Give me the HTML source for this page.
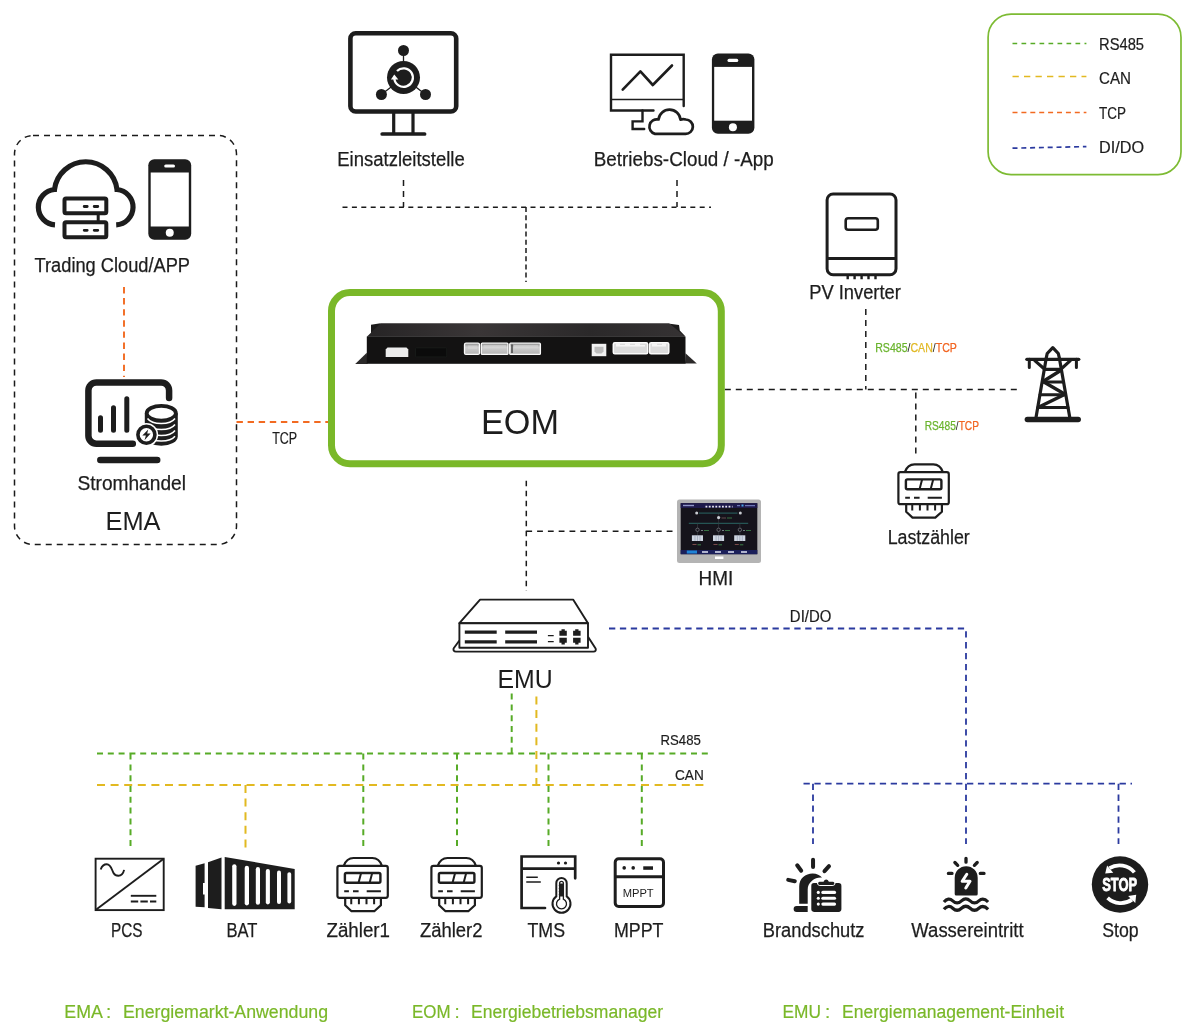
<!DOCTYPE html>
<html lang="de">
<head>
<meta charset="utf-8">
<title>EOM Systemarchitektur</title>
<style>
html,body{margin:0;padding:0;background:#fff;}
body{width:1200px;height:1035px;overflow:hidden;font-family:"Liberation Sans",sans-serif;}
#wrap{width:1200px;height:1035px;will-change:transform;transform:translateZ(0);}
svg{display:block;}
text{font-family:"Liberation Sans",sans-serif;fill:#1d1d1d;}
.lbl{font-size:20px;text-anchor:middle;stroke:#1d1d1d;stroke-width:0.250px;}
.sm{font-size:15.800px;text-anchor:middle;stroke:#1d1d1d;stroke-width:0.200px;}
.ft{font-size:18.800px;fill:#7ab829;stroke:#7ab829;stroke-width:0.200px;}
.dk{stroke:#1a1a1a;stroke-width:1.500;stroke-dasharray:6 5;fill:none;}
.dkt{stroke:#1a1a1a;stroke-width:1.500;stroke-dasharray:5 4.400;fill:none;}
.gr{stroke:#57ab27;stroke-width:2;stroke-dasharray:6 4.800;fill:none;}
.ye{stroke:#e2b921;stroke-width:2;stroke-dasharray:8 5.600;fill:none;}
.or{stroke:#f26a21;stroke-width:1.900;stroke-dasharray:6.400 4.700;fill:none;}
.bl{stroke:#2b3a9f;stroke-width:1.800;stroke-dasharray:6.300 4.600;fill:none;}
</style>
</head>
<body>
<div id="wrap">
<svg width="1200" height="1035" viewBox="0 0 1200 1035">
<rect width="1200" height="1035" fill="#fff"/>
<!-- ===== LEGEND ===== -->
<g id="legend">
<rect x="988.100" y="14.200" width="192.900" height="160.500" rx="23" ry="23" fill="#fff" stroke="#7dbb33" stroke-width="1.700"/>
<path d="M1012.500 43.500H1086.400" fill="none" stroke="#57ab27" stroke-width="1.600" stroke-dasharray="4.700 4.300"/>
<path d="M1012.500 76.500H1086.400" fill="none" stroke="#e2b921" stroke-width="1.600" stroke-dasharray="6.300 5.200"/>
<path d="M1012.500 112.500H1086.400" fill="none" stroke="#f26a21" stroke-width="1.600" stroke-dasharray="5 3.900"/>
<path d="M1012.500 148.200L1086.400 146.600" fill="none" stroke="#2b3a9f" stroke-width="1.700" stroke-dasharray="5 3.800"/>
<text x="1099" y="50.200" font-size="16.200" stroke="#1d1d1d" stroke-width="0.2" textLength="45" lengthAdjust="spacingAndGlyphs">RS485</text>
<text x="1099" y="84.400" font-size="16.200" stroke="#1d1d1d" stroke-width="0.2" textLength="32" lengthAdjust="spacingAndGlyphs">CAN</text>
<text x="1099" y="118.500" font-size="16.200" stroke="#1d1d1d" stroke-width="0.2" textLength="27" lengthAdjust="spacingAndGlyphs">TCP</text>
<text x="1099" y="153" font-size="16.200" stroke="#1d1d1d" stroke-width="0.2" textLength="45" lengthAdjust="spacingAndGlyphs">DI/DO</text>
</g>

<!-- ===== CONNECTION LINES ===== -->
<g id="lines">
<path class="dk" d="M403.500 180V207M677 180V207"/><path class="dkt" d="M342.500 207.250H711"/><path class="dk" d="M526 207V282" style="stroke-dasharray:5 3.2"/>
<rect x="14.500" y="135.500" width="222" height="409" rx="18.500" ry="18.500" class="dk"/>
<path class="or" d="M124 287V377"/>
<path class="or" d="M236.500 422H328"/>
<path class="dk" d="M526.300 480.800V591" style="stroke-dasharray:5.500 4.500"/><path class="dk" d="M526.300 531.300H672.500" style="stroke-dasharray:5.800 5"/>
<path class="dk" d="M724.800 389.500H1019M865.800 309V389.500M915.800 392.500V457.500"/>
<path class="bl" d="M609 628.500H966V844M803.500 783.700H1132M813 783.700V844M1118.500 783.700V844"/>
<path class="gr" d="M97 753.600H710M511.700 693.600V753M130.500 753.600V849M363.300 753.600V849M457 753.600V849M548.500 753.600V849M641.800 753.600V849"/>
<path class="ye" d="M97 785H706M536.400 696.500V785M245.500 785V849"/>
</g>

<!-- ===== EOM BOX ===== -->
<g id="eom">
<rect x="331.500" y="292.500" width="389.800" height="171.300" rx="18.500" ry="18.500" fill="#fff" stroke="#7ab829" stroke-width="7"/>
<text x="520" y="433.600" font-size="35.400" text-anchor="middle" textLength="78" lengthAdjust="spacingAndGlyphs">EOM</text>
</g>

<!-- ===== LABELS ===== -->
<g id="labels">
<text class="lbl" x="401" y="165.800" textLength="127.500" lengthAdjust="spacingAndGlyphs">Einsatzleitstelle</text>
<text class="lbl" x="683.8" y="166" textLength="180" lengthAdjust="spacingAndGlyphs">Betriebs-Cloud / -App</text>
<text class="lbl" x="112.300" y="271.700" textLength="155.500" lengthAdjust="spacingAndGlyphs">Trading Cloud/APP</text>
<text class="lbl" x="131.700" y="489.500" textLength="108.500" lengthAdjust="spacingAndGlyphs">Stromhandel</text>
<text x="133" y="530.400" font-size="26.300" text-anchor="middle" textLength="55" lengthAdjust="spacingAndGlyphs">EMA</text>
<text class="sm" x="284.700" y="444" textLength="25" lengthAdjust="spacingAndGlyphs">TCP</text>
<text class="lbl" x="855" y="299.400" textLength="91.500" lengthAdjust="spacingAndGlyphs">PV Inverter</text>
<text class="lbl" x="928.7" y="544.3" textLength="82.1" lengthAdjust="spacingAndGlyphs">Lastzähler</text>
<text class="lbl" x="715.900" y="584.900" textLength="34.700" lengthAdjust="spacingAndGlyphs">HMI</text>
<text x="525" y="688.200" font-size="25.400" text-anchor="middle" textLength="55.200" lengthAdjust="spacingAndGlyphs">EMU</text>
<text class="sm" x="810.600" y="622.200" textLength="41.500" lengthAdjust="spacingAndGlyphs">DI/DO</text>
<text class="sm" x="680.700" y="745.400" style="font-size:14px" textLength="40.200" lengthAdjust="spacingAndGlyphs">RS485</text>
<text class="sm" x="689.400" y="780.300" style="font-size:14px" textLength="28.700" lengthAdjust="spacingAndGlyphs">CAN</text>
<text class="lbl" x="126.75" y="937.4" textLength="31.5" lengthAdjust="spacingAndGlyphs">PCS</text>
<text class="lbl" x="242" y="937.4" textLength="31" lengthAdjust="spacingAndGlyphs">BAT</text>
<text class="lbl" x="358.25" y="937.4" textLength="63.5" lengthAdjust="spacingAndGlyphs">Zähler1</text>
<text class="lbl" x="451.25" y="937.4" textLength="62.5" lengthAdjust="spacingAndGlyphs">Zähler2</text>
<text class="lbl" x="546.25" y="937.4" textLength="37.5" lengthAdjust="spacingAndGlyphs">TMS</text>
<text class="lbl" x="638.75" y="937.4" textLength="49.5" lengthAdjust="spacingAndGlyphs">MPPT</text>
<text class="lbl" x="813.65" y="937.4" textLength="101.7" lengthAdjust="spacingAndGlyphs">Brandschutz</text>
<text class="lbl" x="967.5" y="937.4" textLength="112.3" lengthAdjust="spacingAndGlyphs">Wassereintritt</text>
<text class="lbl" x="1120.4" y="937.4" textLength="36.4" lengthAdjust="spacingAndGlyphs">Stop</text>
<text x="875.200" y="351.600" font-size="12.200" textLength="81.700" lengthAdjust="spacingAndGlyphs"><tspan style="fill:#6ab42d;stroke:#6ab42d;stroke-width:0.25px">RS485</tspan><tspan style="fill:#222">/</tspan><tspan style="fill:#e1b926;stroke:#e1b926;stroke-width:0.25px">CAN</tspan><tspan style="fill:#222">/</tspan><tspan style="fill:#f26522;stroke:#f26522;stroke-width:0.25px">TCP</tspan></text>
<text x="924.700" y="430.300" font-size="12.200" textLength="54.300" lengthAdjust="spacingAndGlyphs"><tspan style="fill:#6ab42d;stroke:#6ab42d;stroke-width:0.25px">RS485</tspan><tspan style="fill:#222">/</tspan><tspan style="fill:#f26522;stroke:#f26522;stroke-width:0.25px">TCP</tspan></text>
<text class="ft" x="64.300" y="1018" textLength="38.500" lengthAdjust="spacingAndGlyphs">EMA</text><text class="ft" x="106" y="1018">:</text>
<text class="ft" x="123" y="1018" textLength="205" lengthAdjust="spacingAndGlyphs">Energiemarkt-Anwendung</text>
<text class="ft" x="412" y="1018" textLength="38.500" lengthAdjust="spacingAndGlyphs">EOM</text><text class="ft" x="454.500" y="1018">:</text>
<text class="ft" x="471" y="1018" textLength="192" lengthAdjust="spacingAndGlyphs">Energiebetriebsmanager</text>
<text class="ft" x="782.500" y="1018" textLength="38.500" lengthAdjust="spacingAndGlyphs">EMU</text><text class="ft" x="825" y="1018">:</text>
<text class="ft" x="842" y="1018" textLength="222" lengthAdjust="spacingAndGlyphs">Energiemanagement-Einheit</text>
</g>
<g id="icons">
<!-- Einsatzleitstelle monitor -->
<g id="ic-leit" fill="none" stroke="#1d1d1d">
<rect x="350.400" y="33.300" width="105.800" height="78.200" rx="5.300" stroke-width="4.600"/>
<path d="M393.700 113V133M413 113V133" stroke-width="3.200"/>
<path d="M382.200 134H424.600" stroke-width="3.700" stroke-linecap="round"/>
<path d="M403.500 51V77.500L381.400 94.500M403.500 77.500L425.500 94.500" stroke-width="1.300"/>
<circle cx="403.500" cy="77.500" r="16.500" fill="#1d1d1d" stroke="none"/>
<circle cx="403.500" cy="50.500" r="5.500" fill="#1d1d1d" stroke="none"/>
<circle cx="381.400" cy="94.500" r="5.500" fill="#1d1d1d" stroke="none"/>
<circle cx="425.500" cy="94.500" r="5.500" fill="#1d1d1d" stroke="none"/>
<path d="M394.300 78.500A9.300 9.300 0 1 0 397 71" stroke="#fff" stroke-width="2.300"/>
<path d="M390.900 79.600L394.300 74.400L398.300 79.600Z" fill="#fff" stroke="none"/>
</g>
<!-- Betriebs-Cloud monitor -->
<g id="ic-betr" fill="none" stroke="#1d1d1d" stroke-linecap="round" stroke-linejoin="miter">
<path d="M653.500 110.500H611V54.800H683.700V106" stroke-width="2.400"/>
<path d="M611 99.500H683.700" stroke-width="1.300" stroke-linecap="butt"/>
<path d="M642.500 110.500V121.400H632.600V129H644.200" stroke-width="2.400"/>
<path d="M622.700 89.600L640.400 71.400L652.800 85L672 65.500" stroke-width="2.600" stroke-linejoin="round"/>
<path d="M655 133.900H685.500A7.200 7.200 0 0 0 685.800 119.500Q683 118.900 680.500 119.600A11.060 11.060 0 0 0 658.500 119.500A7.410 7.410 0 0 0 655 133.900Z" fill="#fff" stroke-width="2.700" stroke-linejoin="round"/>
</g>
<!-- phone (Betriebs) -->
<g id="ic-ph1">
<rect x="711.900" y="53.600" width="42.500" height="80.200" rx="6" fill="#1d1d1d"/>
<rect x="714.200" y="66.900" width="37.800" height="53.800" fill="#fff"/>
<rect x="727.500" y="58.800" width="10.800" height="3.200" rx="1.600" fill="#fff"/>
<circle cx="732.900" cy="127.200" r="4" fill="#fff"/>
</g>
<!-- Trading cloud -->
<g id="ic-tcloud" fill="none" stroke="#1d1d1d">
<path d="M55 224.800A17.700 17.700 0 0 1 54.500 189.500A31.470 31.470 0 0 1 117 189.500A17.700 17.700 0 0 1 116.200 224.800" stroke-width="5.200"/>
<rect x="64.500" y="198.500" width="41.800" height="14.800" rx="1.500" fill="#fff" stroke-width="4"/>
<rect x="64.500" y="222.200" width="41.800" height="15" rx="1.500" fill="#fff" stroke-width="4"/>
<path d="M98.200 214V221" stroke-width="3"/>
<path d="M84.200 206.500H87.200M94.200 206.500H97.800M84.200 230.300H87.200M94.200 230.300H97.800" stroke-width="2.800" stroke-linecap="round"/>
</g>
<!-- phone (Trading) -->
<g id="ic-ph2">
<rect x="148.300" y="159.300" width="42.900" height="80.400" rx="6" fill="#1d1d1d"/>
<rect x="150.700" y="172.500" width="38.100" height="54" fill="#fff"/>
<rect x="164.200" y="164.400" width="10.800" height="3.100" rx="1.550" fill="#fff"/>
<circle cx="169.750" cy="232.800" r="4" fill="#fff"/>
</g>
<!-- Stromhandel -->
<g id="ic-strom" fill="none" stroke="#1d1d1d" stroke-linecap="round">
<path d="M169.100 398V390.400a8 8 0 0 0 -8 -8H96.400a8 8 0 0 0 -8 8V435.700a8 8 0 0 0 8 8H132.800" stroke-width="6.500"/>
<path d="M100.300 460H157.200" stroke-width="6.500"/>
<path d="M100.500 417.800V430.300M113.500 407.700V430.300M126.800 398.700V430.300" stroke-width="5"/>
<!-- coins -->
<path d="M144.800 413.300V436.500A16.500 9.300 0 0 0 177.800 436.500V413.300Z" fill="#1d1d1d" stroke="none"/>
<ellipse cx="161.300" cy="413.300" rx="14.600" ry="7.400" fill="#fff" stroke-width="3.800"/>
<path d="M147.500 418.500A14.800 8 0 0 0 175 418.500M147.500 424.500A14.800 8 0 0 0 175 424.500M147.500 430.500A14.800 8 0 0 0 175 430.500M147.500 436.300A14.800 7.500 0 0 0 175 436.300" stroke="#fff" stroke-width="1.500" stroke-linecap="butt"/>
<circle cx="146.400" cy="434.800" r="11.800" fill="#fff" stroke="none"/>
<circle cx="146.400" cy="434.800" r="8.500" fill="#fff" stroke-width="3.600"/>
<path d="M148.200 429.400L142.300 435.500H145.900L144.500 440.200L150.600 433.600H147.200Z" fill="#1d1d1d" stroke="none"/>
</g>
<!-- EOM device -->
<defs>
<linearGradient id="gtop" x1="0" y1="0" x2="1" y2="0">
<stop offset="0" stop-color="#262425"/><stop offset="0.35" stop-color="#3a3637"/><stop offset="0.7" stop-color="#2b292a"/><stop offset="1" stop-color="#353233"/>
</linearGradient>
<linearGradient id="gcon" x1="0" y1="0" x2="0" y2="1">
<stop offset="0" stop-color="#8a8a8a"/><stop offset="0.35" stop-color="#cfcfcf"/><stop offset="1" stop-color="#b5b5b5"/>
</linearGradient>
</defs>
<g id="ic-eomdev">
<path d="M371 324.800L380.500 323.200V330L371 336Z" fill="#1b1a1a"/>
<path d="M670 323.800L679 325L679.800 330.500L685 336H672Z" fill="#1b1a1a"/>
<path d="M380.750 323.200H669.250L685.300 336.700H366.800Z" fill="url(#gtop)"/>
<path d="M366.800 352.700L355.200 364H367.500Z" fill="#2b2929"/>
<path d="M685.500 353.300L696.800 363.400H685Z" fill="#2b2929"/>
<rect x="366.800" y="336.500" width="318.700" height="27.300" fill="#131212"/>
<path d="M387.500 347.500H406.500L408.300 349.500V356.900H385.700V349.500Z" fill="#ececec"/>
<rect x="415.500" y="347.900" width="31.200" height="9" rx="1" fill="#0b0b0b" stroke="#1c211e" stroke-width="0.600"/>
<g fill="url(#gcon)" stroke="#fafafa" stroke-width="1.300">
<rect x="464.500" y="343.200" width="15" height="11.200" rx="1.500"/>
<rect x="481.300" y="343.200" width="26.700" height="11.200" rx="1"/>
<rect x="509.700" y="343.200" width="30.700" height="11.200" rx="1"/>
</g>
<path d="M468 345.500H477V349H468ZM483.500 345H506V348.500H483.500ZM514 345H538V348.500H514Z" fill="#d9d9d9" opacity="0.550"/>
<path d="M512 344.500V353" stroke="#333" stroke-width="1.300"/>
<rect x="591.700" y="343.800" width="14.600" height="12.400" fill="#f1f1f1"/>
<path d="M594.500 346.800H603.500V351.500L601.500 353.500H596.500L594.500 351.500Z" fill="#bdbdbd"/>
<g fill="#dcdcdc" stroke="#fbfbfb" stroke-width="1.500">
<rect x="613.300" y="342.800" width="34.400" height="11" rx="1.500"/>
<rect x="649.600" y="342.800" width="19.200" height="11" rx="1.500"/>
</g>
<path d="M616 343.500H620V345H625V343.500H630V345H635V343.500H640V345H645V346.500H616ZM652 343.500H657V345H662V343.500H666V346.500H652Z" fill="#f5f5f5"/>
</g>
<!-- HMI -->
<g id="ic-hmi">
<rect x="677" y="499.600" width="84" height="63.400" rx="2.500" fill="#b4b4b4"/>
<rect x="680.700" y="503.200" width="76.600" height="51" fill="#15131b"/>
<rect x="680.700" y="503.200" width="76.600" height="4.800" fill="#1e1a4c"/>
<rect x="680.700" y="550" width="76.600" height="4.200" fill="#1b1f5a"/>
<rect x="686.800" y="550.500" width="10.200" height="3" fill="#1f83d6"/>
<path d="M702 552H708M715 552H721M728 552H734M741 552H747" stroke="#dfe3f5" stroke-width="1.300"/>
<rect x="715" y="556.500" width="8.400" height="2.500" fill="#fff"/>
<path d="M683 505.500H694" stroke="#8f95c8" stroke-width="1.400"/>
<path d="M705.500 506.600H732.500" stroke="#e6e6ee" stroke-width="1.600" stroke-dasharray="1.800 1.500"/>
<path d="M737 505.600H740M745 505.600H755" stroke="#6d76b5" stroke-width="1.200"/>
<rect x="741.500" y="504.500" width="2" height="2" fill="#4aa6e8"/>
<path d="M699 513.100H737.500M688.800 523.300H748.200" stroke="#2c6f6c" stroke-width="0.900"/>
<path d="M718.600 513V535M697.500 523.300V535M739.900 523.300V535" stroke="#3a3f45" stroke-width="0.600"/>
<g fill="#15131b" stroke="#8b8f96" stroke-width="0.600">
<circle cx="697.500" cy="529.800" r="1.700"/><circle cx="718.600" cy="529.800" r="1.700"/><circle cx="739.900" cy="529.800" r="1.700"/>
</g>
<g fill="#c9ccd2"><circle cx="696.700" cy="513.100" r="1.500"/><circle cx="740.300" cy="513.100" r="1.500"/><circle cx="718.600" cy="517.600" r="1.600"/></g>
<path d="M721.500 518H726" stroke="#7a5a5a" stroke-width="0.800"/><path d="M727 518H732" stroke="#3f8a4c" stroke-width="0.800"/>
<path d="M701 530.500H703M722 530.500H724M743 530.500H745" stroke="#9aa" stroke-width="0.700"/>
<path d="M704 530.500H709M725 530.500H730M746 530.500H751" stroke="#3f8a4c" stroke-width="0.800"/>
<g fill="#cfd6e2">
<rect x="691.900" y="535.300" width="11.100" height="5.700"/><rect x="713" y="535.300" width="11.100" height="5.700"/><rect x="734.200" y="535.300" width="11.100" height="5.700"/>
</g>
<path d="M695 535.300V541M697.500 535.300V541M700 535.300V541M716.100 535.300V541M718.600 535.300V541M721.100 535.300V541M737.300 535.300V541M739.800 535.300V541M742.300 535.300V541" stroke="#8f99ad" stroke-width="0.600"/>
<path d="M692.500 544.500H696.500M713.500 544.500H717.500M734.800 544.500H738.800" stroke="#7a4a4a" stroke-width="1"/>
<path d="M697.500 544.800H701M718.500 544.800H722M739.800 544.800H743.300" stroke="#3f8a4c" stroke-width="0.900"/>
</g>
<!-- EMU device -->
<g id="ic-emu" fill="none" stroke="#1d1d1d" stroke-width="1.900" stroke-linejoin="round">
<path d="M459.400 640.500L453.700 648.300Q452.800 651.600 456 651.600H593.500Q596.500 651.600 595.600 648.500L588 636.700" fill="#fff"/>
<path d="M459.400 623.200L480.100 599.600H573.100L588 623.200Z" fill="#fff"/>
<rect x="459.400" y="623.200" width="128.600" height="24.600" fill="#fff"/>
<path d="M464.800 632.200H496.700M464.800 641.800H496.700M505.200 632.200H537M505.200 641.800H537" stroke-width="3.300"/>
<path d="M547.900 635.700H553.700M547.900 641.700H553.700" stroke-width="1.200"/>
<g fill="#1d1d1d" stroke="none">
<path d="M561.500 629.200H564.800V630.700H566.800V635.800H559.400V630.700H561.500Z"/>
<path d="M559.400 637.800H566.800V642.800H564.800V644.500H561.500V642.800H559.400Z"/>
<path d="M575.200 629.200H578.500V630.700H580.600V635.800H573.100V630.700H575.200Z"/>
<path d="M573.100 637.800H580.600V642.800H578.500V644.500H575.200V642.800H573.100Z"/>
</g>
</g>
<!-- PV inverter -->
<g id="ic-pv" fill="none" stroke="#1d1d1d">
<rect x="827.100" y="194" width="68.900" height="80.700" rx="6" stroke-width="3"/>
<path d="M827.100 258.600H896" stroke-width="3"/>
<rect x="845.700" y="218.300" width="32.100" height="11.500" rx="2.500" stroke-width="2.600"/>
<path d="M847.700 275.500V279.200M854.600 275.500V279.200M861.600 275.500V279.200M868.500 275.500V279.200M875.500 275.500V279.200" stroke-width="2.400"/>
</g>
<!-- tower -->
<g id="ic-tower" fill="none" stroke="#1d1d1d" stroke-linecap="round" stroke-linejoin="round">
<path d="M1027.400 419.600H1078.200" stroke-width="5.500"/>
<path d="M1026.800 359.300H1078.800" stroke-width="3.200"/>
<path d="M1029.300 359.300V367.500M1076.400 359.300V367.500" stroke-width="3"/>
<path d="M1036.100 417L1046.200 358.200L1047.200 353.500L1052.800 347.600L1058.300 353.500L1059.400 358.200L1069.700 417" stroke-width="3.200"/>
<path d="M1034.800 360.600L1044.700 369.300H1060.800L1070.300 360.600" stroke-width="3.200"/>
<path d="M1060.200 370.700L1043 381.500L1065 394.200L1039 407" stroke-width="3.400"/>
<path d="M1043 382.100H1062.900M1040 394.800H1065M1037.800 407.400H1068" stroke-width="3"/>
</g>
<g id="ic-last" transform="translate(0 0)" fill="none" stroke="#1d1d1d" stroke-width="2.200" stroke-linejoin="round">
<path d="M904.800 472.200Q907.500 464.400 914.500 464.400H933.300Q940.300 464.400 942.900 472.200"/>
<path d="M906.200 504.200V511.700L912.500 517.600H935.300L941.900 511.700V504.200"/>
<path d="M912.250 505V510.600M919.900 505V510.600M927.500 505V510.600M935.100 505V510.600" stroke-width="2"/>
<rect x="898.400" y="472.200" width="50.400" height="32" rx="2" fill="#fff"/>
<rect x="905.900" y="479.400" width="35.500" height="9.800" rx="1.500" stroke-width="2.400"/>
<path d="M922.100 479.400L919.600 489M933.200 479.400L930.700 489" stroke-width="2"/>
<path d="M905.200 497.700H909.900M914 497.700H919.600M927.700 497.700H941.900" stroke-width="2"/>
</g>
<g id="ic-z1" transform="translate(-561 393.6)" fill="none" stroke="#1d1d1d" stroke-width="2.200" stroke-linejoin="round">
<path d="M904.800 472.200Q907.500 464.400 914.500 464.400H933.300Q940.300 464.400 942.900 472.200"/>
<path d="M906.200 504.200V511.700L912.500 517.600H935.300L941.900 511.700V504.200"/>
<path d="M912.250 505V510.600M919.900 505V510.600M927.500 505V510.600M935.100 505V510.600" stroke-width="2"/>
<rect x="898.400" y="472.200" width="50.400" height="32" rx="2" fill="#fff"/>
<rect x="905.900" y="479.400" width="35.500" height="9.800" rx="1.500" stroke-width="2.400"/>
<path d="M922.100 479.400L919.600 489M933.200 479.400L930.700 489" stroke-width="2"/>
<path d="M905.200 497.700H909.900M914 497.700H919.600M927.700 497.700H941.900" stroke-width="2"/>
</g>
<g id="ic-z2" transform="translate(-467 393.6)" fill="none" stroke="#1d1d1d" stroke-width="2.200" stroke-linejoin="round">
<path d="M904.800 472.200Q907.500 464.400 914.500 464.400H933.300Q940.300 464.400 942.900 472.200"/>
<path d="M906.200 504.200V511.700L912.500 517.600H935.300L941.900 511.700V504.200"/>
<path d="M912.250 505V510.600M919.900 505V510.600M927.500 505V510.600M935.100 505V510.600" stroke-width="2"/>
<rect x="898.400" y="472.200" width="50.400" height="32" rx="2" fill="#fff"/>
<rect x="905.900" y="479.400" width="35.500" height="9.800" rx="1.500" stroke-width="2.400"/>
<path d="M922.100 479.400L919.600 489M933.200 479.400L930.700 489" stroke-width="2"/>
<path d="M905.200 497.700H909.900M914 497.700H919.600M927.700 497.700H941.900" stroke-width="2"/>
</g>
<!-- PCS -->
<g id="ic-pcs" fill="none" stroke="#1d1d1d" stroke-width="1.900">
<rect x="95.600" y="858.700" width="68.100" height="51.400" fill="#fff"/>
<path d="M95.600 910.100L163.700 858.700"/>
<path d="M100.700 869.500C102 865.500 104.300 864.200 106.800 864.200C111 864.200 111.800 870 113.500 873C114.800 875.200 116.500 875.800 118.300 875.800C121.500 875.800 123.300 873.500 124.100 869.900"/>
<path d="M130.800 895.800H156.300"/>
<path d="M130.800 901.500H156.300" stroke-dasharray="7.400 2.200"/>
</g>
<!-- BAT -->
<g id="ic-bat" fill="#1d1d1d">
<path d="M195.600 865.700L204.600 863.200V883H203V894.500H204.600V907.300L195.600 906.700Z"/>
<path d="M208 862.250L221.500 857.500V909.200L208 907.900Z"/>
<path d="M224.700 856.900L294.700 869V909.200H224.700Z"/>
<g fill="#fff">
<rect x="232.200" y="864.200" width="4.300" height="41.800" rx="2.150"/>
<rect x="244.700" y="865.800" width="4.300" height="39.600" rx="2.150"/>
<rect x="255.800" y="867.100" width="4.200" height="37.700" rx="2.100"/>
<rect x="265.800" y="869" width="4.100" height="35.400" rx="2.050"/>
<rect x="277" y="870.400" width="4" height="33.600" rx="2"/>
<rect x="287.400" y="872.200" width="3.800" height="31.300" rx="1.900"/>
</g>
</g>
<!-- TMS -->
<g id="ic-tms" fill="none" stroke="#1d1d1d" stroke-linecap="round" stroke-linejoin="miter">
<path d="M545 908H521.600V856.500H575.200V878.300" stroke-width="2.700"/>
<path d="M521.600 868.700H575.200" stroke-width="2.700" stroke-linecap="butt"/>
<circle cx="558.500" cy="863" r="1.600" fill="#1d1d1d" stroke="none"/>
<circle cx="565.500" cy="863" r="1.600" fill="#1d1d1d" stroke="none"/>
<path d="M526.250 877.250H537.800M526.250 882H540.800" stroke-width="1.600" stroke-linecap="butt"/>
<path d="M556.300 896.400V883.200A5.200 5.200 0 0 1 566.700 883.200V896.400A9 9 0 1 1 556.300 896.400Z" fill="#fff" stroke="#fff" stroke-width="5"/>
<path d="M556.300 896.400V883.200A5.200 5.200 0 0 1 566.700 883.200V896.400A9 9 0 1 1 556.300 896.400Z" fill="#fff" stroke-width="2"/>
<path d="M559.600 899.200V883.300A1.900 1.900 0 0 1 563.400 883.300V899.200A5 5 0 1 1 559.600 899.200Z" fill="#fff" stroke-width="1.300"/>
<path d="M561.500 883.500V896.500" stroke-width="3" stroke-linecap="butt"/>
<path d="M558.800 885.500H561M558.800 888.500H561M558.800 891.500H561M558.800 894.500H561" stroke-width="0.900" stroke-linecap="butt"/>
</g>
<!-- MPPT -->
<g id="ic-mppt" fill="none" stroke="#1d1d1d">
<rect x="615.200" y="858.800" width="48.300" height="47.700" rx="3.500" fill="#fff" stroke-width="3"/>
<path d="M615.200 876.800H663.500" stroke-width="3"/>
<circle cx="624.200" cy="867.900" r="1.800" fill="#1d1d1d" stroke="none"/>
<circle cx="633.200" cy="867.900" r="1.800" fill="#1d1d1d" stroke="none"/>
<rect x="643.250" y="866.300" width="9.750" height="3.500" fill="#1d1d1d" stroke="none"/>
<text x="638.200" y="896.800" font-size="11.200" text-anchor="middle" textLength="31" lengthAdjust="spacingAndGlyphs" stroke="none" fill="#1d1d1d">MPPT</text>
</g>
<!-- Brandschutz -->
<g id="ic-brand" fill="#1d1d1d" stroke="none">
<path d="M813.050 859.800V867M797.200 865.300L801.200 870.700M829 866.200L824.500 871.200M788.200 879.900L794.800 881.200" stroke="#1d1d1d" stroke-width="4" stroke-linecap="round" fill="none"/>
<path d="M799.200 903.650V886.500C799.200 878.500 805.500 873.500 812.600 873.500C816.800 873.500 820 875.300 822.200 877.700C818.500 877.300 815 878.300 812 880.800C809 883.300 807.700 886 807.700 889.500V903.650Z"/>
<path d="M796.600 905.900H807.700V911.900H796.600A3 3 0 0 1 796.600 905.900Z"/>
<rect x="810.300" y="882.100" width="32.100" height="30.800" rx="3.500" fill="#fff"/>
<path d="M814 883.100H816.900Q817.500 886 820.500 886H832Q835 886 835.600 883.100H838.600A2.800 2.800 0 0 1 841.400 885.900V909.100A2.800 2.800 0 0 1 838.600 911.900H814A2.800 2.800 0 0 1 811.300 909.100V885.900A2.800 2.800 0 0 1 814 883.100Z"/>
<path d="M819.500 881.800H823.500Q824.500 879.600 826.200 879.600Q827.900 879.600 828.900 881.800H833Q834.400 881.800 834.400 883.300Q834.400 884.900 833 884.900H819.500Q818.100 884.900 818.100 883.300Q818.100 881.800 819.500 881.800Z"/>
<g fill="#fff">
<circle cx="818.300" cy="892.400" r="1.550"/><circle cx="818.300" cy="898.200" r="1.550"/><circle cx="818.300" cy="904.100" r="1.550"/>
<rect x="821.300" y="890.850" width="14.800" height="3.100" rx="1.550"/>
<rect x="821.300" y="896.650" width="14.800" height="3.100" rx="1.550"/>
<rect x="821.300" y="902.550" width="14.800" height="3.100" rx="1.550"/>
</g>
</g>
<!-- Wassereintritt -->
<g id="ic-wasser" fill="none" stroke="#1d1d1d" stroke-linecap="round">
<path d="M966 858.300V862.200M954.900 862.500L957.700 865.300M977.200 862.500L974.400 865.300M948.400 873.400H952M980.300 873.400H984" stroke-width="3.300"/>
<path d="M954.700 894V877.700a11.500 11.500 0 0 1 23 0V894a1.500 1.500 0 0 1 -1.500 1.500H956.200a1.500 1.500 0 0 1 -1.500 -1.500Z" fill="#1d1d1d" stroke="none"/>
<path d="M966.800 874.300L962.200 881.300H970L965.800 888" stroke="#fff" stroke-width="3" stroke-linejoin="round"/>
<path d="M943.900 902Q948.400 896.900 952.750 900.900T961.450 900.900T970.150 900.900T978.850 900.900T988.100 902" stroke-width="3.200" stroke-linecap="butt"/>
<path d="M943.900 909.300Q948.400 904.200 952.750 908.200T961.450 908.200T970.150 908.200T978.850 908.200T988.100 909.300" stroke-width="3.200" stroke-linecap="butt"/>
</g>
<!-- Stop -->
<g id="ic-stop">
<circle cx="1120" cy="884.500" r="28.200" fill="#1d1d1d"/>
<path d="M1134.400 872.400A19.400 19.400 0 0 0 1109.500 868.200" fill="none" stroke="#fff" stroke-width="3.800"/>
<path d="M1107.100 865.400L1105.200 873.400L1113.250 872.700Z" fill="#fff"/>
<path d="M1107.600 897.800A19.400 19.400 0 0 0 1132 899.600" fill="none" stroke="#fff" stroke-width="3.800"/>
<path d="M1136.200 894.750L1128.100 895.900L1135.300 903Z" fill="#fff"/>
<text x="1119.700" y="891" font-size="18" font-weight="bold" text-anchor="middle" textLength="35" lengthAdjust="spacingAndGlyphs" style="fill:#fff" stroke="#fff" stroke-width="0.800" stroke-linejoin="round">STOP</text>
</g>
</g>
</svg>
</div>
</body>
</html>
